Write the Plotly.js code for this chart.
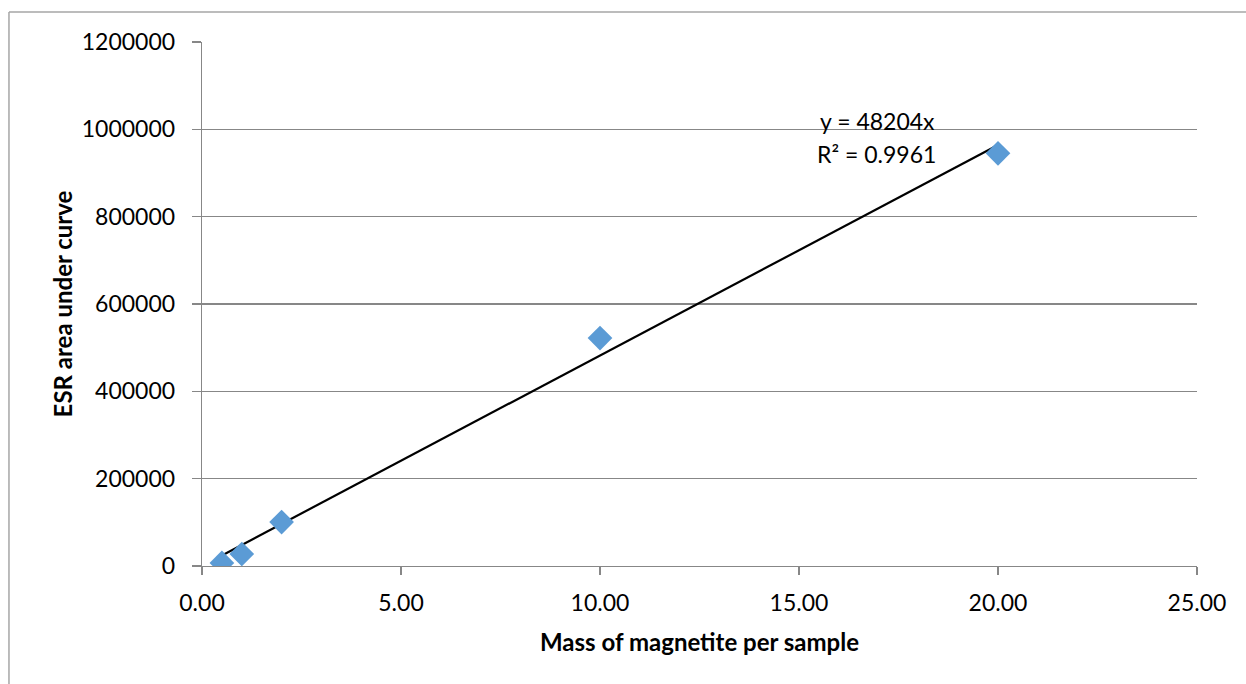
<!DOCTYPE html>
<html>
<head>
<meta charset="utf-8">
<script src="https://cdn.plot.ly/plotly-3.0.1.min.js"></script>
<style>html,body{margin:0;padding:0;background:#fff;}#chart{width:1246px;height:684px;}</style>
</head>
<body>
<div id="chart"></div>
<script>
// Data
const massValues = [0.5, 1, 2, 10, 20];
const esrValues = [7000, 27500, 100500, 522000, 945000];
const slope = 48204;
const rSquaredText = "0.9961";
const trendX = [0.5, 20];
const xTickVals = [0, 5, 10, 15, 20, 25];
const xTickText = ["0.00", "5.00", "10.00", "15.00", "20.00", "25.00"];
const yTickVals = [0, 200000, 400000, 600000, 800000, 1000000, 1200000];
const yTickText = ["0", "200000", "400000", "600000", "800000", "1000000", "1200000"];

const trendY = trendX.map(x => slope * x);
const FONT = "Lato, 'Liberation Sans', sans-serif";

const data = [
  {
    x: trendX, y: trendY, mode: 'lines', type: 'scatter',
    line: {color: '#000000', width: 2.2}, hoverinfo: 'skip', showlegend: false
  },
  {
    x: massValues, y: esrValues, mode: 'markers', type: 'scatter',
    marker: {symbol: 'diamond', size: 19, color: '#5B9BD5', line: {width: 0}},
    showlegend: false
  }
];

const layout = {
  width: 1246, height: 684,
  margin: {l: 202, r: 49, t: 42, b: 118},
  paper_bgcolor: '#ffffff', plot_bgcolor: '#ffffff',
  font: {family: FONT, size: 23, color: '#000000'},
  showlegend: false,
  xaxis: {
    range: [0, 25], tickvals: xTickVals, ticktext: xTickText,
    showgrid: false, zeroline: false,
    showline: true, linecolor: '#878787', linewidth: 1.3,
    ticks: 'outside', ticklen: 8, tickcolor: '#878787', tickwidth: 1.3,
    ticklabelstandoff: 8,
    tickfont: {family: FONT, size: 23, color: '#000'},
    title: {text: '<b>Mass of magnetite per sample</b>', font: {family: FONT, size: 24, color: '#000'}, standoff: 19}
  },
  yaxis: {
    range: [0, 1200000], tickvals: yTickVals, ticktext: yTickText,
    showgrid: true, gridcolor: '#878787', gridwidth: 1.3, zeroline: false,
    showline: true, linecolor: '#878787', linewidth: 1.3,
    ticks: 'outside', ticklen: 9, tickcolor: '#878787', tickwidth: 1.3,
    ticklabelstandoff: 12,
    tickfont: {family: FONT, size: 23, color: '#000'},
    title: {text: '<b>ESR area under curve</b>', font: {family: FONT, size: 24, color: '#000'}, standoff: 2}
  },
  annotations: [
    {x: 15.48, y: 1019000, xref: 'x', yref: 'y', xanchor: 'left', yanchor: 'middle',
     text: 'y = ' + slope + 'x', showarrow: false, font: {family: FONT, size: 23, color: '#000'}},
    {x: 15.40, y: 943000, xref: 'x', yref: 'y', xanchor: 'left', yanchor: 'middle',
     text: 'R² = ' + rSquaredText, showarrow: false, font: {family: FONT, size: 23, color: '#000'}}
  ],
  shapes: [
    {type: 'line', xref: 'paper', yref: 'paper', x0: -0.194, x1: -0.194, y0: 1.0573, y1: -0.24, line: {color: '#a6a6a6', width: 1.5}},
    {type: 'line', xref: 'paper', yref: 'paper', x0: -0.194, x1: 1.06, y0: 1.0573, y1: 1.0573, line: {color: '#a6a6a6', width: 1.5}}
  ]
};

Plotly.newPlot('chart', data, layout, {displayModeBar: false, staticPlot: true});
</script>
</body>
</html>
